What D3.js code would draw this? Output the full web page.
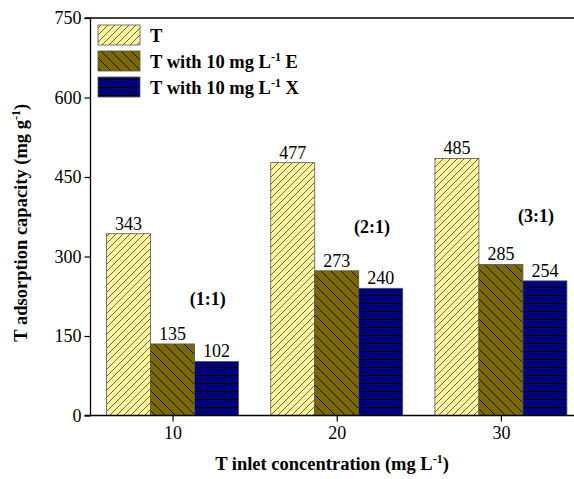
<!DOCTYPE html>
<html><head><meta charset="utf-8">
<script src="https://cdn.jsdelivr.net/npm/d3@7"></script>
<style>body{margin:0;background:#fff}svg{display:block}</style>
</head><body>
<svg id="c" width="574" height="479"></svg>
<script>
const concentrations = [10, 20, 30];
const seriesNames = ["T", "T with 10 mg L-1 E", "T with 10 mg L-1 X"];
const valuesT = [343, 477, 485];
const valuesE = [135, 273, 285];
const valuesX = [102, 240, 254];
const ratioLabels = ["(1:1)", "(2:1)", "(3:1)"];
const ratioYs = [208, 344, 365];
const yTicks = [0, 150, 300, 450, 600, 750];

const svg = d3.select("#c");
const L = 90.5, R = 583, T = 18, B = 415.5;
const x = d3.scaleLinear().domain([5, 35]).range([L, R]);
const y = d3.scaleLinear().domain([0, 750]).range([B, T]);
const barW = 2.68; // data units
const serif = "'Liberation Serif','Times New Roman',serif";

const defs = svg.append("defs");
function pat(id, bg, w, h, lines, stroke, sw) {
  const p = defs.append("pattern").attr("id", id).attr("patternUnits", "userSpaceOnUse")
    .attr("width", w).attr("height", h);
  p.append("rect").attr("width", w).attr("height", h).attr("fill", bg);
  lines.forEach(l => p.append("line").attr("x1", l[0]).attr("y1", l[1]).attr("x2", l[2]).attr("y2", l[3])
    .attr("stroke", stroke).attr("stroke-width", sw));
}
pat("pT", "#FFF4A3", 7, 7, [[0,7,7,0],[-1,1,1,-1],[6,8,8,6]], "#6b6330", 1);
pat("pE", "#7A6900", 10, 10, [[0,0,10,10],[-1,9,1,11],[9,-1,11,1]], "#1a1500", 1);
pat("pX", "#00007A", 8, 8, [[0,7.5,8,7.5]], "#000000", 1);

const series = [
  {name: seriesNames[0], vals: valuesT, fill: "url(#pT)", off: -1},
  {name: seriesNames[1], vals: valuesE, fill: "url(#pE)", off: 0},
  {name: seriesNames[2], vals: valuesX, fill: "url(#pX)", off: 1}
];

const g = svg.append("g");
series.forEach(s => {
  concentrations.forEach((c, i) => {
    const x0 = x(c + s.off * barW - barW / 2), x1 = x(c + s.off * barW + barW / 2);
    g.append("rect").attr("x", x0).attr("y", y(s.vals[i])).attr("width", x1 - x0)
      .attr("height", y(0) - y(s.vals[i])).attr("fill", s.fill)
      .attr("stroke", "#555").attr("stroke-width", 0.8);
    g.append("text").attr("x", (x0 + x1) / 2).attr("y", y(s.vals[i]) - 4)
      .attr("text-anchor", "middle").attr("font-family", serif).attr("font-size", 18)
      .text(s.vals[i]);
  });
});

// ratio labels
concentrations.forEach((c, i) => {
  g.append("text").attr("x", x(c + 0.8 * barW)).attr("y", y(ratioYs[i]))
    .attr("text-anchor", "middle").attr("font-family", serif).attr("font-weight", "bold")
    .attr("font-size", 18).text(ratioLabels[i]);
});

// frame
svg.append("line").attr("x1", L).attr("x2", 574).attr("y1", T).attr("y2", T).attr("stroke", "#000").attr("stroke-width", 1.3);

// axes
const ya = svg.append("g").attr("transform", `translate(${L},0)`)
  .call(d3.axisLeft(y).tickValues(yTicks).tickSize(6).tickPadding(3));
const xa = svg.append("g").attr("transform", `translate(0,${B})`)
  .call(d3.axisBottom(x).tickValues(concentrations).tickSize(6).tickPadding(5));
[ya, xa].forEach(a => {
  a.select(".domain").attr("stroke-width", 1.3);
  a.selectAll("text").attr("font-family", serif).attr("font-size", 18).attr("fill", "#000");
  a.selectAll(".tick line").attr("stroke-width", 1.2);
});
xa.select(".domain").attr("d", `M${L},0H574`);
ya.select(".domain").attr("d", `M-6,${T}H0V${B}H-6`);

// axis titles
const xt = svg.append("text").attr("x", 332).attr("y", 470).attr("text-anchor", "middle")
  .attr("font-family", serif).attr("font-weight", "bold").attr("font-size", 18.5);
xt.append("tspan").text("T inlet concentration (mg L");
xt.append("tspan").attr("dy", -7).attr("font-size", 12).text("-1");
xt.append("tspan").attr("dy", 7).text(")");

const yt = svg.append("text").attr("transform", `translate(27,${(T + B) / 2 + 6}) rotate(-90)`)
  .attr("text-anchor", "middle").attr("font-family", serif).attr("font-weight", "bold").attr("font-size", 18.5);
yt.append("tspan").text("T adsorption capacity (mg g");
yt.append("tspan").attr("dy", -7).attr("font-size", 12).text("-1");
yt.append("tspan").attr("dy", 7).text(")");

// legend
const lg = svg.append("g");
series.forEach((s, i) => {
  const yy = 25 + i * 26;
  lg.append("rect").attr("x", 98).attr("y", yy).attr("width", 42).attr("height", 20)
    .attr("fill", s.fill).attr("stroke", "#555").attr("stroke-width", 0.8);
  const t = lg.append("text").attr("x", 150).attr("y", yy + 17).attr("font-family", serif)
    .attr("font-weight", "bold").attr("font-size", 18.5);
  if (i === 0) { t.text("T"); }
  else {
    t.append("tspan").text("T with 10 mg L");
    t.append("tspan").attr("dy", -7).attr("font-size", 12).text("-1");
    t.append("tspan").attr("dy", 7).text(i === 1 ? " E" : " X");
  }
});
</script>
</body></html>
